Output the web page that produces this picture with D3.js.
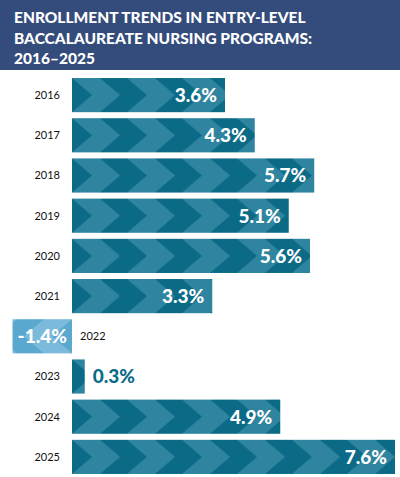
<!DOCTYPE html><html><head><meta charset="utf-8"><script src="https://cdn.jsdelivr.net/npm/d3@7"></script>
<style>body{margin:0;background:#fff}</style></head><body><svg id="c" width="400" height="477"></svg>
<script>
const years=["2016","2017","2018","2019","2020","2021","2022","2023","2024","2025"];
const values=[3.6,4.3,5.7,5.1,5.6,3.3,-1.4,0.3,4.9,7.6];
const title=["ENROLLMENT TRENDS IN ENTRY-LEVEL","BACCALAUREATE NURSING PROGRAMS:","2016–2025"];
const svg=d3.select("#c");
svg.append("rect").attr("width",400).attr("height",70).attr("fill","#344c7b");
svg.append("text").attr("x",14).attr("y",23).attr("fill","#fff").attr("font-family","Lato").attr("font-weight",900).attr("font-size",15.5)
 .selectAll("tspan").data(title).join("tspan").attr("x",14).attr("dy",(d,i)=>i?20.5:0).text(d=>d);
const x=d3.scaleLinear().domain([0,7.6]).range([72,395]);
const y=d3.scaleBand().domain(years).range([76,476]).paddingInner(0.15).paddingOuter(0.05);
const defs=svg.append("defs");
function pat(id,bg,fg){const h=y.bandwidth();const p=defs.append("pattern").attr("id",id).attr("patternUnits","userSpaceOnUse").attr("width",55).attr("height",h).attr("x",72);
 p.append("rect").attr("width",55).attr("height",h).attr("fill",bg);
 p.append("path").attr("d",`M0,0L28,0L48,${h/2}L28,${h}L0,${h}L20,${h/2}Z`).attr("fill",fg);}
const data=years.map((yr,i)=>({yr,v:values[i]}));
data.forEach((d,i)=>{defs; });
const g=svg.append("g");
data.forEach((d,i)=>{
 const neg=d.v<0;const id="p"+i;
 const h=y.bandwidth();const p=defs.append("pattern").attr("id",id).attr("patternUnits","userSpaceOnUse").attr("width",55).attr("height",h).attr("x",72).attr("y",y(d.yr));
 p.append("rect").attr("width",55).attr("height",h).attr("fill",neg?"#5aa8d0":"#0b6b87");
 if(neg)p.append("path").attr("d",`M55,0L27,0L7,${h/2}L27,${h}L55,${h}L35,${h/2}Z`).attr("fill","#7bbadb");
 else p.append("path").attr("d",`M0,0L28,0L48,${h/2}L28,${h}L0,${h}L20,${h/2}Z`).attr("fill","#2f84a0");
 const x0=Math.min(x(0),x(d.v)),w=Math.abs(x(d.v)-x(0));
 g.append("rect").attr("x",x0).attr("y",y(d.yr)).attr("width",w).attr("height",h).attr("fill",`url(#${id})`);
 const cy=y(d.yr)+h/2;
 const small=w<60;
 g.append("text").attr("x",neg?x0+w/2:(small?x(d.v)+8:x(d.v)-8)).attr("y",cy).attr("dy","0.36em")
  .attr("text-anchor",neg?"middle":(small?"start":"end")).attr("fill",small&&!neg?"#0b6b87":"#fff")
  .attr("font-family","Lato").attr("font-weight",900).attr("font-size",19).text(d.v.toFixed(1)+"%");
 g.append("text").attr("x",neg?x(0)+8:60).attr("y",cy).attr("dy","0.36em").attr("text-anchor",neg?"start":"end")
  .attr("font-family","Lato").attr("font-size",11).attr("fill","#111").text(d.yr);
});
</script></body></html>
